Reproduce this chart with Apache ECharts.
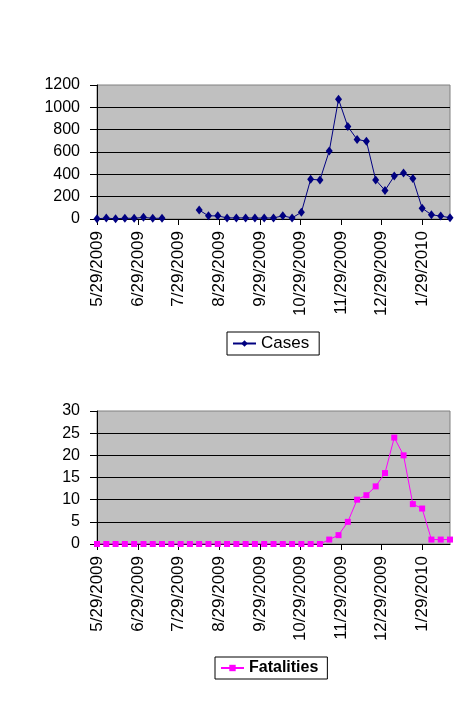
<!DOCTYPE html>
<html lang="en" style="height: 100%;background-color:#ffffff">
<head>
    <meta charset="UTF-8">
    <title>Cases and Fatalities</title>
    <script src="https://cdn.jsdelivr.net/npm/echarts@6/dist/echarts.min.js"></script>
</head>
<body style="margin:0;height:100%;">
<div id="main" style="width:473px;height:716px;"></div>
<script>
    // weekly report dates
    var dates = [
        '5/29/2009', '6/5/2009', '6/12/2009', '6/19/2009', '6/26/2009', '7/3/2009', '7/10/2009',
        '7/17/2009', '7/24/2009', '7/31/2009', '8/7/2009', '8/14/2009', '8/21/2009', '8/28/2009',
        '9/4/2009', '9/11/2009', '9/18/2009', '9/25/2009', '10/2/2009', '10/9/2009', '10/16/2009',
        '10/23/2009', '10/30/2009', '11/6/2009', '11/13/2009', '11/20/2009', '11/27/2009', '12/4/2009',
        '12/11/2009', '12/18/2009', '12/25/2009', '1/1/2010', '1/8/2010', '1/15/2010', '1/22/2010',
        '1/29/2010', '2/5/2010', '2/12/2010', '2/19/2010'
    ];
    var cases = [
        2, 8, 2, 7, 6, 15, 6, 7, null, null, null, 80, 28, 28,
        10, 10, 10, 8, 8, 10, 28, 10, 60, 355, 350, 608, 1072, 828,
        712, 697, 350, 256, 384, 412, 362, 97, 38, 26, 12
    ];
    var fatalities = [
        0, 0, 0, 0, 0, 0, 0, 0, 0, 0, 0, 0, 0, 0,
        0, 0, 0, 0, 0, 0, 0, 0, 0, 0, 0, 1, 2, 5,
        10, 11, 13, 16, 24, 20, 9, 8, 1, 1, 1
    ];
    var tickLabels = ['5/29/2009', '6/29/2009', '7/29/2009', '8/29/2009', '9/29/2009',
        '10/29/2009', '11/29/2009', '12/29/2009', '1/29/2010'];

    function toTime(s) {
        var p = s.split('/');
        return Date.UTC(+p[2], +p[0] - 1, +p[1]);
    }
    var tickTimes = tickLabels.map(toTime);
    var labelByTime = {};
    tickTimes.forEach(function (t, i) { labelByTime[t] = tickLabels[i]; });

    function pairs(vals) {
        return dates.map(function (d, i) {
            return [toTime(d), vals[i] == null ? '-' : vals[i]];
        });
    }

    var font = 'Liberation Sans';

    function xAxisFor(gi) {
        return {
            type: 'value',
            gridIndex: gi,
            min: toTime(dates[0]),
            max: toTime(dates[dates.length - 1]),
            axisLine: {show: true, lineStyle: {color: '#000', width: 1}},
            axisTick: {show: true, length: 6, customValues: tickTimes, lineStyle: {color: '#000'}},
            axisLabel: {
                customValues: tickTimes,
                rotate: 90,
                margin: 12,
                color: '#000',
                fontSize: 17,
                fontFamily: font,
                formatter: function (v) { return labelByTime[v] || ''; }
            },
            splitLine: {show: false}
        };
    }

    function yAxisFor(gi, max, step) {
        return {
            type: 'value',
            gridIndex: gi,
            min: 0,
            max: max,
            interval: step,
            axisLine: {show: true, lineStyle: {color: '#000', width: 1}},
            axisTick: {show: true, length: 7, lineStyle: {color: '#000'}},
            axisLabel: {
                margin: 17, color: '#000', fontSize: 16, fontFamily: font,
                formatter: function (v) { return String(v); }
            },
            splitLine: {show: true, showMaxLine: false, lineStyle: {color: '#000', width: 1}}
        };
    }

    var chart = echarts.init(document.getElementById('main'));

    var option = {
        backgroundColor: '#ffffff',
        animation: false,
        grid: [
            {left: 97, right: 23, top: 85, height: 134, show: true,
                backgroundColor: '#c0c0c0', borderColor: '#808080', borderWidth: 1},
            {left: 97, right: 23, top: 411, height: 133, show: true,
                backgroundColor: '#c0c0c0', borderColor: '#808080', borderWidth: 1}
        ],
        xAxis: [xAxisFor(0), xAxisFor(1)],
        yAxis: [yAxisFor(0, 1200, 200), yAxisFor(1, 30, 5)],
        legend: [
            {
                data: ['Cases'],
                left: 227, top: 332,
                padding: [3, 10, 3, 5],
                itemWidth: 23, itemHeight: 8, itemGap: 5,
                borderColor: '#000', borderWidth: 1,
                textStyle: {color: '#000', fontSize: 17, fontFamily: font}
            },
            {
                data: ['Fatalities'],
                left: 215, top: 657,
                padding: [3, 9, 3, 5],
                itemWidth: 23, itemHeight: 8, itemGap: 5,
                borderColor: '#000', borderWidth: 1,
                textStyle: {color: '#000', fontSize: 16, fontWeight: 'bold', fontFamily: font}
            }
        ],
        series: [
            {
                name: 'Cases',
                type: 'line',
                xAxisIndex: 0, yAxisIndex: 0,
                data: pairs(cases),
                connectNulls: false,
                symbol: 'diamond',
                symbolSize: [7, 9],
                showAllSymbol: true,
                color: '#000080',
                itemStyle: {color: '#000080'},
                lineStyle: {color: '#000080', width: 1}
            },
            {
                name: 'Fatalities',
                type: 'line',
                xAxisIndex: 1, yAxisIndex: 1,
                data: pairs(fatalities),
                symbol: 'rect',
                symbolSize: 6,
                showAllSymbol: true,
                color: '#ff00ff',
                itemStyle: {color: '#ff00ff'},
                lineStyle: {color: '#ff00ff', width: 1}
            }
        ]
    };

    chart.setOption(option);
    window.onresize = function () {
        chart.resize();
    };
</script>
</body>
</html>
